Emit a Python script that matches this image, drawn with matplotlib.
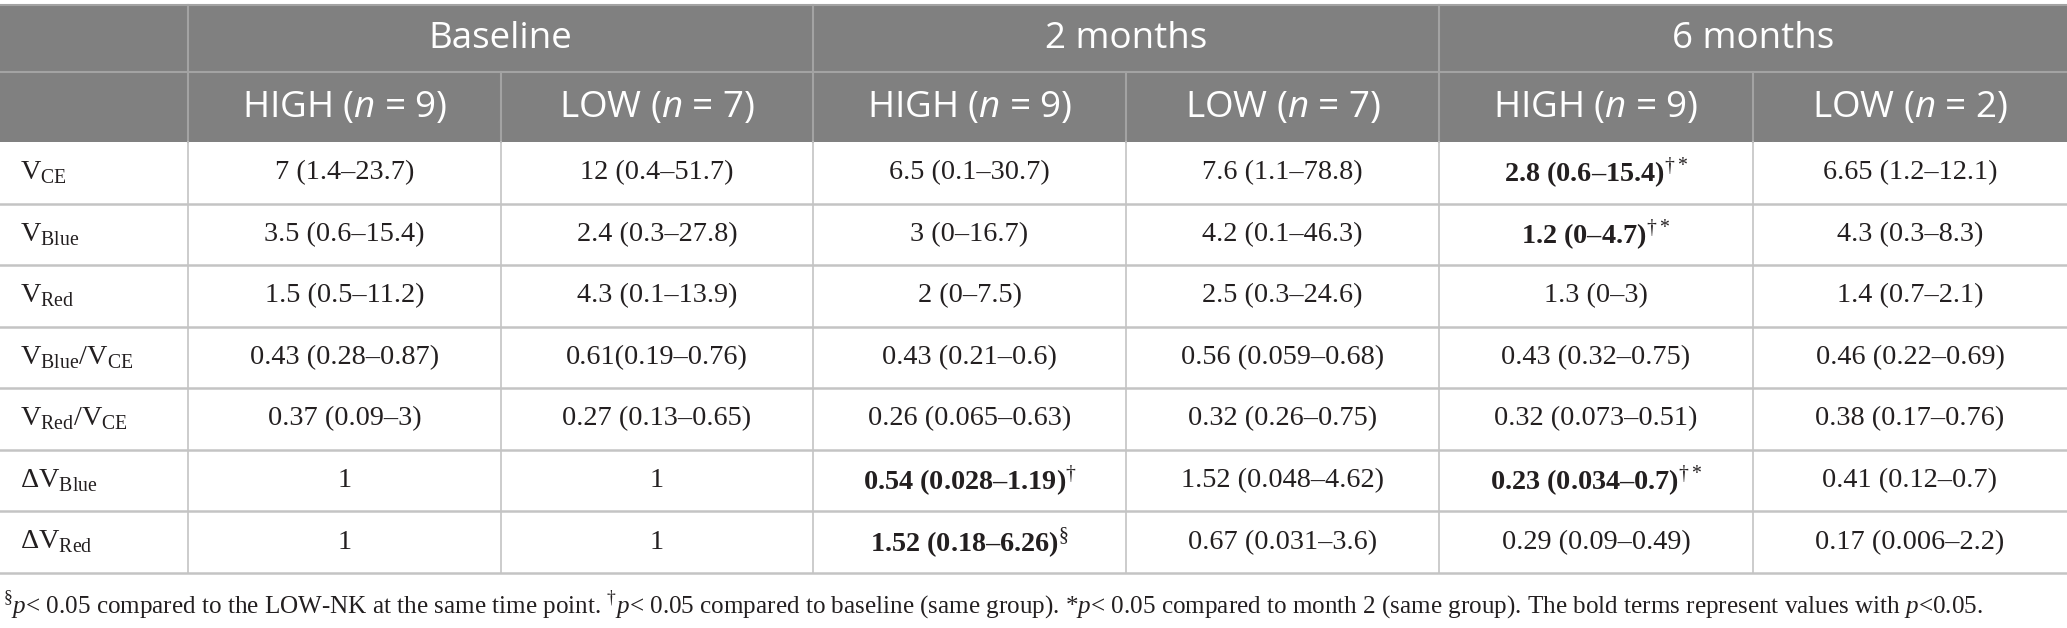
import matplotlib
matplotlib.use("Agg")
import matplotlib.pyplot as plt

plt.rcParams['mathtext.fontset'] = 'custom'
plt.rcParams['mathtext.rm'] = 'Liberation Serif'
plt.rcParams['mathtext.bf'] = 'Liberation Serif:bold'
plt.rcParams['mathtext.it'] = 'Open Sans:italic'      # italic n in header
plt.rcParams['mathtext.sf'] = 'Liberation Serif:italic'  # italic p in footnote

# table content
groups = ['Baseline', '2 months', '6 months']
subheads = ['HIGH ($\\mathit{n}$ = 9)', 'LOW ($\\mathit{n}$ = 7)',
            'HIGH ($\\mathit{n}$ = 9)', 'LOW ($\\mathit{n}$ = 7)',
            'HIGH ($\\mathit{n}$ = 9)', 'LOW ($\\mathit{n}$ = 2)']
row_labels = ['$\\mathrm{V}_{\\mathrm{CE}}$',
              '$\\mathrm{V}_{\\mathrm{Blue}}$',
              '$\\mathrm{V}_{\\mathrm{Red}}$',
              '$\\mathrm{V}_{\\mathrm{Blue}}/\\mathrm{V}_{\\mathrm{CE}}$',
              '$\\mathrm{V}_{\\mathrm{Red}}/\\mathrm{V}_{\\mathrm{CE}}$',
              '$\\mathrm{ΔV}_{\\mathrm{Blue}}$',
              '$\\mathrm{ΔV}_{\\mathrm{Red}}$']
cells = [
    ['7 (1.4–23.7)', '12 (0.4–51.7)', '6.5 (0.1–30.7)', '7.6 (1.1–78.8)', '2.8 (0.6–15.4)', '6.65 (1.2–12.1)'],
    ['3.5 (0.6–15.4)', '2.4 (0.3–27.8)', '3 (0–16.7)', '4.2 (0.1–46.3)', '1.2 (0–4.7)', '4.3 (0.3–8.3)'],
    ['1.5 (0.5–11.2)', '4.3 (0.1–13.9)', '2 (0–7.5)', '2.5 (0.3–24.6)', '1.3 (0–3)', '1.4 (0.7–2.1)'],
    ['0.43 (0.28–0.87)', '0.61(0.19–0.76)', '0.43 (0.21–0.6)', '0.56 (0.059–0.68)', '0.43 (0.32–0.75)', '0.46 (0.22–0.69)'],
    ['0.37 (0.09–3)', '0.27 (0.13–0.65)', '0.26 (0.065–0.63)', '0.32 (0.26–0.75)', '0.32 (0.073–0.51)', '0.38 (0.17–0.76)'],
    ['1', '1', '0.54 (0.028–1.19)', '1.52 (0.048–4.62)', '0.23 (0.034–0.7)', '0.41 (0.12–0.7)'],
    ['1', '1', '1.52 (0.18–6.26)', '0.67 (0.031–3.6)', '0.29 (0.09–0.49)', '0.17 (0.006–2.2)'],
]
# (row, col) -> superscript mark, for the bold cells
bold_marks = {(0, 4): '†*', (1, 4): '†*', (5, 2): '†', (5, 4): '†*', (6, 2): '§'}
footnote = ('$^{§}\\mathsf{p}$< 0.05 compared to the LOW-NK at the same time point. '
            '$^{†}\\mathsf{p}$< 0.05 compared to baseline (same group). '
            '*$\\mathsf{p}$< 0.05 compared to month 2 (same group). '
            'The bold terms represent values with $\\mathsf{p}$<0.05.')

W, H = 2067, 628
fig = plt.figure(figsize=(W / 100, H / 100), dpi=100)
ax = fig.add_axes([0, 0, 1, 1])
ax.set_xlim(0, W)
ax.set_ylim(H, 0)
ax.axis('off')

xs = [0, 188, 501, 813, 1126, 1439, 1753, W]
top, h1, h2, bot = 5, 72, 142, 573
nrow = len(row_labels)
rh = (bot - h2) / nrow

hdr_bg = '#808080'
hdr_line = '#a3a3a3'
body_line = '#c4c4c4'

ax.add_patch(plt.Rectangle((0, top), W, h2 - top, color=hdr_bg, lw=0))
ax.plot([0, W], [top, top], color=hdr_line, lw=1.5)
ax.plot([0, W], [h1, h1], color=hdr_line, lw=1.5)
for i, x in enumerate(xs[1:-1]):
    y0 = top if i % 2 == 0 else h1
    ax.plot([x, x], [y0, h2], color=hdr_line, lw=1.5)
    ax.plot([x, x], [h2, bot], color=body_line, lw=1.2)
for r in range(1, nrow):
    y = h2 + r * rh
    ax.plot([0, W], [y, y], color=body_line, lw=1.8)
ax.plot([0, W], [bot, bot], color=body_line, lw=1.8)

hfont = dict(family='Open Sans', fontsize=26.5, color='white', ha='center', va='center')
for g, name in enumerate(groups):
    ax.text((xs[2 * g + 1] + xs[2 * g + 3]) / 2, (top + h1) / 2 + 1, name, **hfont)
for c, name in enumerate(subheads):
    ax.text((xs[c + 1] + xs[c + 2]) / 2, (h1 + h2) / 2 + 1, name, **hfont)

bfont = dict(family='Liberation Serif', fontsize=20.3, color='#231f20', va='center')
for r in range(nrow):
    yc = h2 + (r + 0.5) * rh
    ax.text(20, yc, row_labels[r], ha='left', **bfont)
    for c in range(6):
        xc = (xs[c + 1] + xs[c + 2]) / 2
        if (r, c) in bold_marks:
            ax.text(xc, yc, cells[r][c] + '$^{\\mathrm{' + bold_marks[(r, c)] + '}}$',
                    ha='center', fontweight='bold', **bfont)
        else:
            ax.text(xc, yc, cells[r][c], ha='center', **bfont)

ax.text(3, 606, footnote, ha='left', family='Liberation Serif', fontsize=18.1,
        color='#231f20', va='center')

fig.savefig('out.png', dpi=100)
